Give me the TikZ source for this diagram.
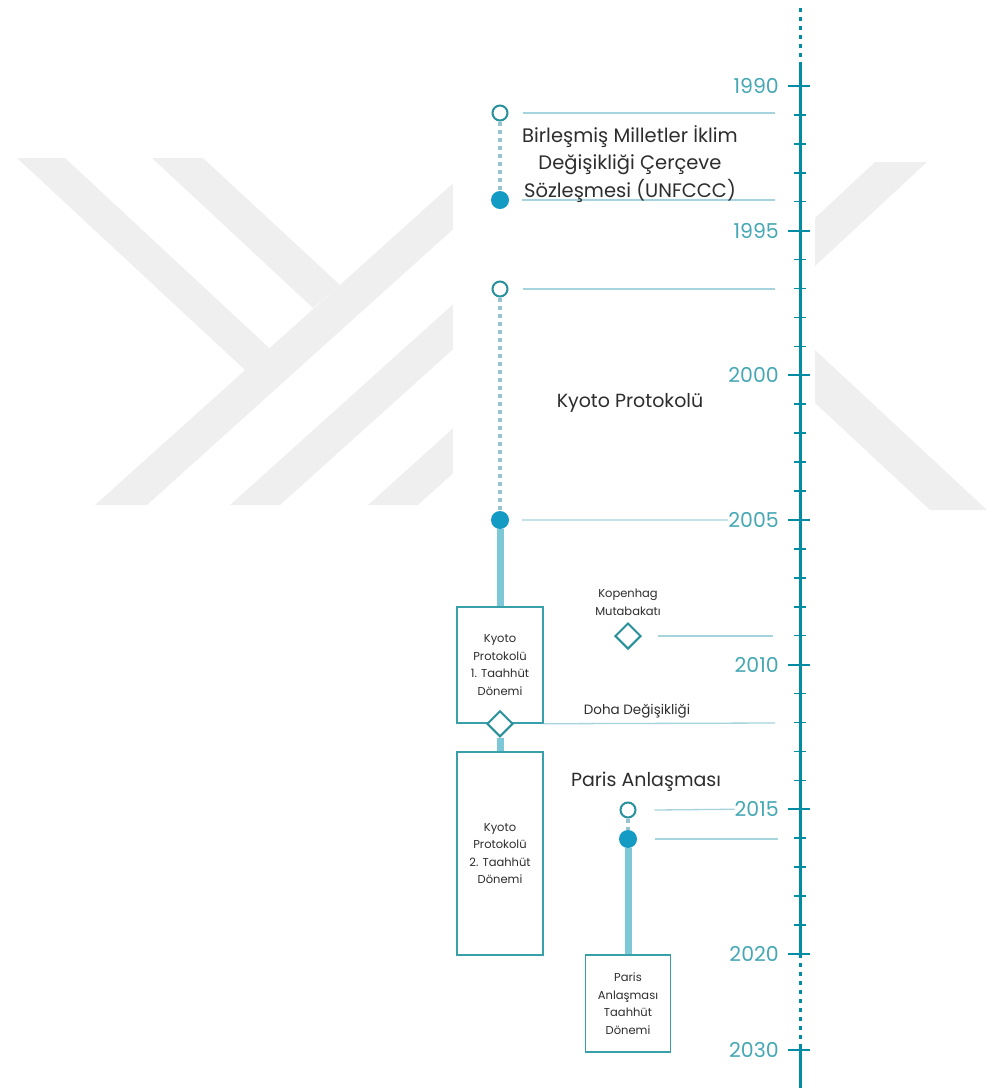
\documentclass[tikz,border=0pt]{standalone}
\usepackage{fontspec}
\setmainfont{Poppins}
\usetikzlibrary{shapes.geometric}
\definecolor{tlAxis}{RGB}{0,140,165}
\definecolor{tlYear}{RGB}{70,168,180}
\definecolor{tlDot}{RGB}{20,155,195}
\definecolor{tlRing}{RGB}{40,145,155}
\definecolor{tlBar}{RGB}{125,200,215}
\definecolor{tlDash}{RGB}{150,195,205}
\definecolor{tlThin}{RGB}{165,212,222}
\definecolor{tlBox}{RGB}{55,160,170}
\definecolor{tlText}{RGB}{45,45,45}
\definecolor{wmGray}{RGB}{239,239,239}

\begin{document}
\begin{tikzpicture}[x=1pt,y=-1pt,
  opencirc/.style={circle,draw=tlRing,line width=2pt,fill=white,minimum size=15pt,inner sep=0pt},
  fillcirc/.style={circle,fill=tlDot,minimum size=18pt,inner sep=0pt},
  evdiamond/.style={diamond,draw=tlRing,line width=2pt,fill=white,minimum size=26pt,inner sep=0pt},
  periodbox/.style={draw=tlBox,line width=1.5pt,fill=white,align=center,text=tlText,font=\fontsize{11.5}{17.5}\selectfont,inner sep=0pt},
  dotconn/.style={tlDash,line width=4.5pt,dash pattern=on 4pt off 4pt},
  barconn/.style={tlBar,line width=7pt},
  hline/.style={tlThin,line width=1.3pt},
  axline/.style={tlAxis,line width=3pt},
  axdot/.style={tlAxis,line width=3pt,dash pattern=on 4pt off 5pt},
  tickmn/.style={tlAxis,line width=1.5pt},
  tickmj/.style={tlAxis,line width=2pt},
  yearlbl/.style={anchor=east,inner sep=0pt,text=tlYear,font=\fontsize{20.5}{22}\selectfont},
  evtext/.style={text=tlText,align=center,inner sep=0pt},
]
\useasboundingbox (0,0) rectangle (987,1088);
% watermark behind the chart
\fill[wmGray] (17,158) -- (65,158) -- (295,372) -- (245,370) -- cycle;
\fill[wmGray] (152,158) -- (203,158) -- (340,285) -- (313,308) -- cycle;
\fill[wmGray] (95,505) -- (147,505) -- (470,214) -- (470,168) -- cycle;
\fill[wmGray] (230,505) -- (280,505) -- (470,334) -- (470,289) -- cycle;
\fill[wmGray] (368,505) -- (418,505) -- (470,458) -- (470,413) -- cycle;
\fill[wmGray] (875,162) -- (927,162) -- (800,280) -- (800,232) -- cycle;
\fill[wmGray] (930,510) -- (987,510) -- (800,336) -- (800,389) -- cycle;
\fill[white] (453,0) rectangle (815,1088);

% time axis
\coordinate (axTop) at (800,8);
\coordinate (axSolid) at (800,62);
\coordinate (ax2020) at (800,954);
\coordinate (ax2030) at (800,1047);
\coordinate (axBot) at (800,1088);
\draw[axdot] (axTop) -- (axSolid);
\draw[axline] (axSolid) -- (ax2020);
\draw[axdot] (ax2020) -- (ax2030);
\draw[axline] (ax2030) -- (axBot);
\foreach \k in {0,...,30}
  \draw[tickmn] (794,86+\k*28.93) -- (806,86+\k*28.93);
\foreach \k/\lbl in {0/1990,5/1995,10/2000,15/2005,20/2010,25/2015,30/2020,33.32/2030}{
  \draw[tickmj] (788,86+\k*28.93) -- (810,86+\k*28.93);
  \node[yearlbl] (y\lbl) at (779,86+\k*28.93) {\lbl};
}

% UNFCCC
\node[opencirc] (unA) at (500,113) {};
\node[fillcirc] (unB) at (500,200) {};
\draw[dotconn] (unA) -- (unB);
\coordinate (unAend) at (775,113);
\coordinate (unBend) at (775,200);
\draw[hline] ([xshift=14pt]unA.east) -- (unAend);
\draw[hline] ([xshift=13pt]unB.east) -- (unBend);
\node[evtext,font=\fontsize{19.5}{27.5}\selectfont] (unText) at (630,164)
  {Birleşmiş Milletler İklim\\Değişikliği Çerçeve\\Sözleşmesi (UNFCCC)};

% Kyoto
\node[opencirc] (kyA) at (500,289) {};
\node[fillcirc] (kyB) at (500,520) {};
\draw[dotconn] (kyA) -- (kyB);
\coordinate (kyAend) at (775,289);
\draw[hline] ([xshift=14pt]kyA.east) -- (kyAend);
\draw[hline] ([xshift=13pt]kyB.east) -- (y2005.west);
\node[evtext,font=\fontsize{19}{24}\selectfont] (kyText) at (630,403) {Kyoto Protokolü};

% commitment periods
\node[periodbox,minimum width=86pt,minimum height=116pt] (kp1) at (500,665)
  {Kyoto\\Protokolü\\1. Taahhüt\\Dönemi};
\node[periodbox,minimum width=86pt,minimum height=203pt] (kp2) at (500,853.5)
  {Kyoto\\Protokolü\\2. Taahhüt\\Dönemi};
\draw[barconn] (kyB) -- (kp1);
\node[evdiamond] (doha) at (kp1.south) {};
\draw[barconn] (doha) -- (kp2);
\coordinate (dohaEnd) at (775,723);
\draw[hline] (kp1.south east) -- (dohaEnd);
\node[evtext,font=\fontsize{13.5}{16}\selectfont] (dohaText) at (637,711) {Doha Değişikliği};

% Kopenhag
\node[evdiamond] (kop) at (628,636) {};
\node[evtext,font=\fontsize{11.5}{18}\selectfont] (kopText) at (628,602) {Kopenhag\\Mutabakatı};
\coordinate (kopEnd) at (773,636);
\draw[hline] ([xshift=16pt]kop.east) -- (kopEnd);

% Paris
\node[evtext,font=\fontsize{19}{24}\selectfont] (paText) at (646,782) {Paris Anlaşması};
\node[opencirc] (paA) at (628,810) {};
\node[fillcirc] (paB) at (628,839) {};
\draw[dotconn] (paA) -- (paB);
\coordinate (paBend) at (778,839);
\draw[hline] ([xshift=18pt]paA.east) -- (y2015.west);
\draw[hline] ([xshift=18pt]paB.east) -- (paBend);
\node[periodbox,minimum width=85pt,minimum height=97pt] (pa) at (628,1003.5)
  {Paris\\Anlaşması\\Taahhüt\\Dönemi};
\draw[barconn] (paB) -- (pa);
\end{tikzpicture}
\end{document}
